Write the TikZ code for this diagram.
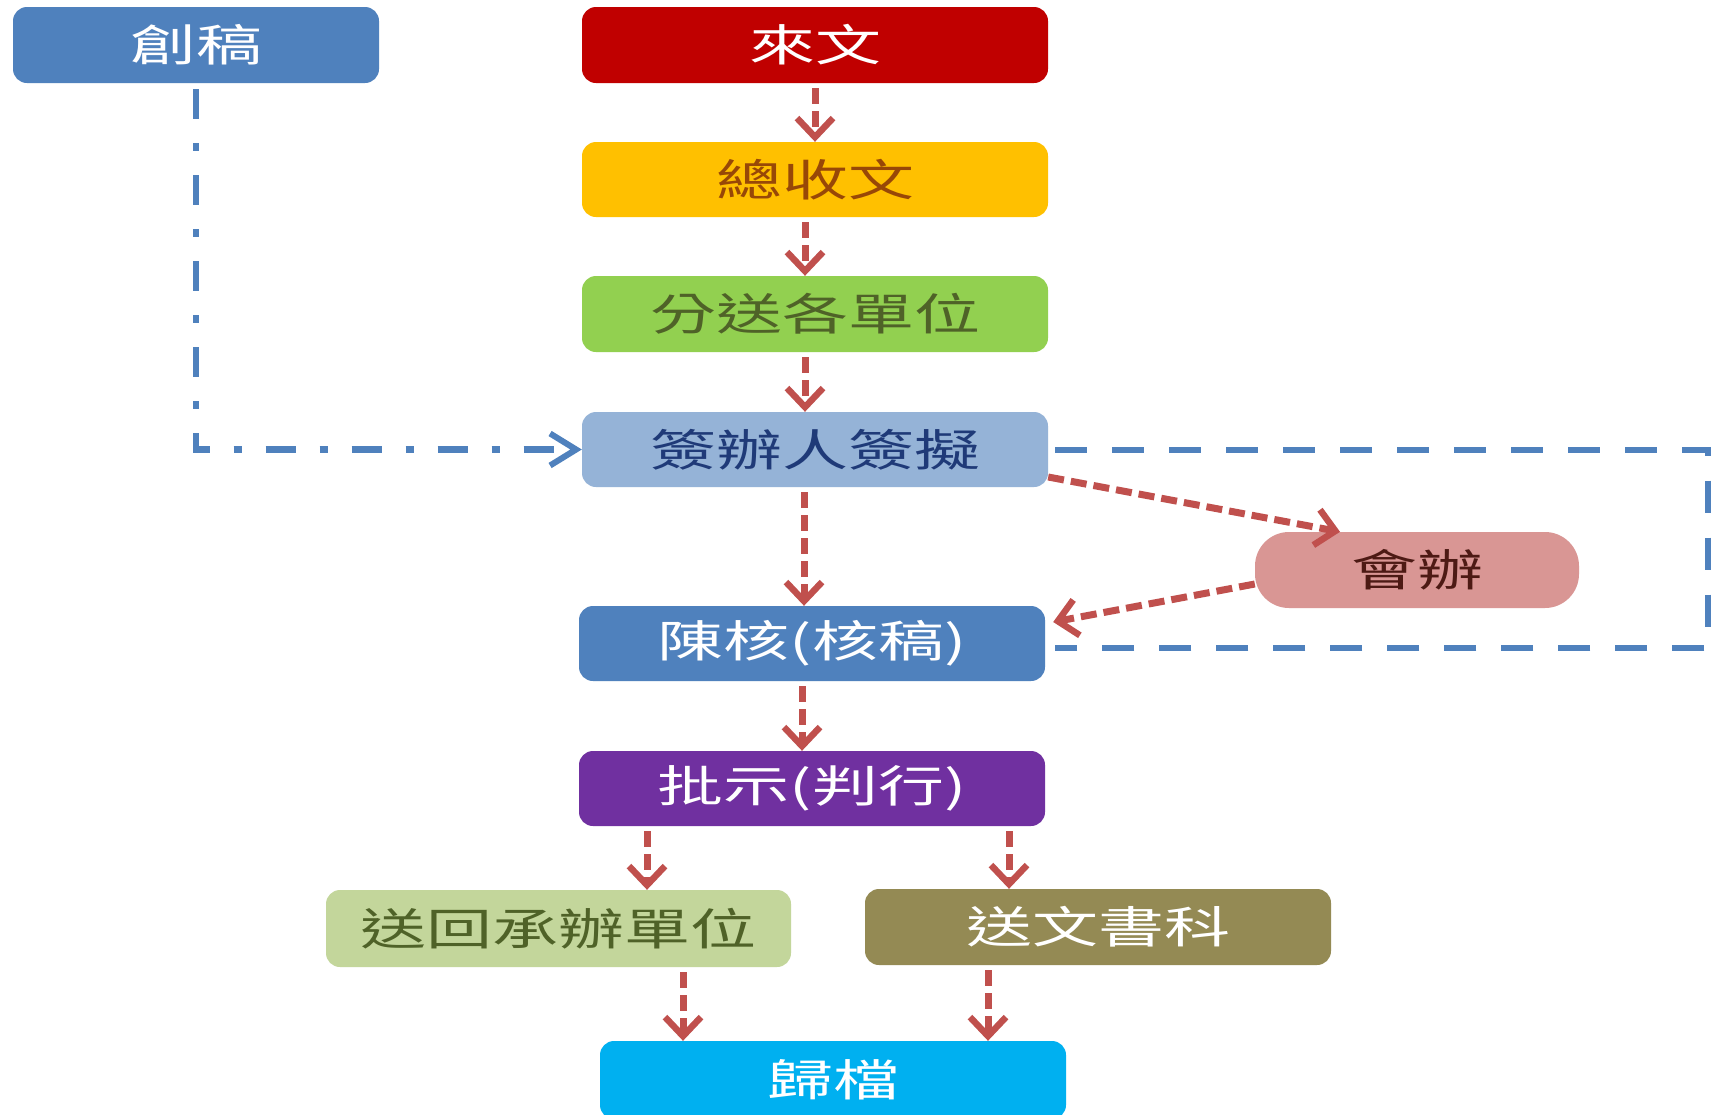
\documentclass[tikz,border=0pt]{standalone}
\usepackage{fontspec}
\usepackage{graphicx}
\setmainfont{Noto Sans CJK TC}
\usetikzlibrary{arrows.meta}

% box fills
\definecolor{cBlue}{HTML}{4F81BD}
\definecolor{cRed}{HTML}{C00000}
\definecolor{cGold}{HTML}{FFC000}
\definecolor{cGreen}{HTML}{92D050}
\definecolor{cLightBlue}{HTML}{95B3D7}
\definecolor{cPink}{HTML}{D99694}
\definecolor{cPurple}{HTML}{7030A0}
\definecolor{cPaleGreen}{HTML}{C3D69B}
\definecolor{cOlive}{HTML}{948A54}
\definecolor{cCyan}{HTML}{00B0F0}
% text colours
\definecolor{tBrown}{HTML}{984807}
\definecolor{tGreen}{HTML}{4F6228}
\definecolor{tNavy}{HTML}{1F3A78}
\definecolor{tDarkRed}{HTML}{4D1A14}
% connector colours
\definecolor{lineRed}{HTML}{C0504D}
\definecolor{lineBlue}{HTML}{4F81BD}

\newcommand{\widetxt}[1]{\scalebox{1.5}[1]{#1}}

\tikzset{
  box/.style={rounded corners=14pt, minimum width=466pt, minimum height=76pt,
    inner sep=0pt, text=white, font=\fontsize{44}{50}\selectfont},
  flow/.style={draw=lineRed, line width=7pt, dash pattern=on 16pt off 7pt,
    shorten <=5pt,
    -{Straight Barb[length=19pt,width=36pt,line width=6.5pt]}},
  loopline/.style={draw=lineBlue, line width=6pt, dash pattern=on 32pt off 25pt},
  draftline/.style={draw=lineBlue, line width=6.5pt,
    dash pattern=on 30pt off 24pt on 8pt off 24pt,
    -{Straight Barb[length=26pt,width=32pt,line width=6pt]}}
}

\begin{document}
\begin{tikzpicture}[x=1pt,y=-1pt]
\useasboundingbox[fill=white] (0,0) rectangle (1711,1114);

% process boxes
\node[box, fill=cBlue, minimum width=366pt] (chuang) at (196,45) {\widetxt{創稿}};
\node[box, fill=cRed] (laiwen) at (815,45) {\widetxt{來文}};
\node[box, fill=cGold, text=tBrown, minimum height=75pt] (zong) at (815,179.5) {\widetxt{總收文}};
\node[box, fill=cGreen, text=tGreen] (fen) at (815,314) {\widetxt{分送各單位}};
\node[box, fill=cLightBlue, text=tNavy, minimum height=75pt] (qian) at (815,449.5) {\widetxt{簽辦人簽擬}};
\node[box, fill=cPink, text=tDarkRed, minimum width=324pt, rounded corners=34pt] (hui) at (1417,570) {\widetxt{會辦}};
\node[box, fill=cBlue, minimum height=75pt] (chen) at (812,643.5) {\widetxt{陳核(核稿)}};
\node[box, fill=cPurple, minimum height=75pt] (pi) at (812,788.5) {\widetxt{批示(判行)}};
\node[box, fill=cPaleGreen, text=tGreen, minimum width=465pt, minimum height=77pt] (songhui) at (558.5,928.5) {\widetxt{送回承辦單位}};
\node[box, fill=cOlive] (songwen) at (1098,927) {\widetxt{送文書科}};
\node[box, fill=cCyan, minimum height=78pt] (gui) at (833,1080) {\widetxt{歸檔}};

% main flow
\draw[flow] (laiwen.south) -- (zong.north);
\draw[flow] ([xshift=-10pt]zong.south) -- ([xshift=-10pt]fen.north);
\draw[flow] ([xshift=-10pt]fen.south) -- ([xshift=-10pt]qian.north);
\draw[flow] ([xshift=-11pt]qian.south) -- ([xshift=-8pt]chen.north);
\draw[flow] ([xshift=-10pt]chen.south) -- ([xshift=-10pt]pi.north);
\draw[flow] ([xshift=-165pt]pi.south) -- ([xshift=88.5pt]songhui.north);
\draw[flow] ([xshift=197pt]pi.south) -- ([xshift=-89pt]songwen.north);
\draw[flow] ([xshift=124.5pt]songhui.south) -- ([xshift=-150pt]gui.north);
\draw[flow] ([xshift=-110pt]songwen.south) -- ([xshift=155pt]gui.north);

% joint handling
\draw[flow, shorten <=0pt] ([yshift=-27.5pt]qian.east) -- ([xshift=-77pt]hui.north);
\draw[flow, shorten <=0pt] ([yshift=-14pt]hui.west) -- ([xshift=8pt,yshift=21.5pt]chen.east);

% draft entry
\draw[draftline] ([yshift=-6pt]chuang.south) |- (qian.west);

% return loop at the right edge
\coordinate (rx) at (1708,0);
\draw[loopline] ([xshift=7pt]qian.east) -- (qian.east -| rx)
  -- ([yshift=-4.5pt]chen.east -| rx) -- ([xshift=10pt,yshift=-4.5pt]chen.east);
\end{tikzpicture}
\end{document}
